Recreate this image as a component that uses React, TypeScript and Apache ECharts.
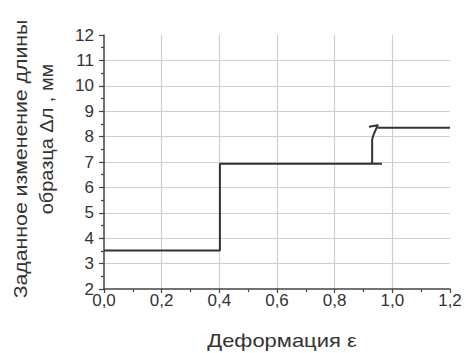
import React, { useEffect, useRef } from "react";
import * as echarts from "echarts";

const xTicks = [0, 0.2, 0.4, 0.6, 0.8, 1.0, 1.2];
const yTicks = [2, 3, 4, 5, 6, 7, 8, 9, 10, 11, 12];
const lowerStep: [number, number][] = [
  [0, 3.52],
  [0.402, 3.52],
  [0.402, 6.93],
  [0.964, 6.93],
];
const riseStep: [number, number][] = [
  [0.93, 6.93],
  [0.93, 7.88],
  [0.934, 8.05],
  [0.95, 8.47],
];
const hookStep: [number, number][] = [
  [0.919, 8.39],
  [0.95, 8.45],
];
const upperStep: [number, number][] = [
  [0.948, 8.35],
  [1.2, 8.35],
];
const xTitle = "Деформация ε";
const yTitle1 = "Заданное изменение длины";
const yTitle2 = "образца Δл , мм";

const FONT = "Liberation Sans, Arial, sans-serif";

export default function App() {
  const ref = useRef<HTMLDivElement>(null);
  useEffect(() => {
    if (!ref.current) return;
    const chart = echarts.init(ref.current, undefined, { renderer: "svg" });
    const lineStyle = { color: "#333", width: 2 };
    const mk = (data: [number, number][]) => ({
      type: "line",
      data,
      showSymbol: false,
      symbol: "none",
      lineStyle,
      z: 5,
    });
    chart.setOption({
      animation: false,
      backgroundColor: "#fff",
      textStyle: { fontFamily: FONT },
      grid: { left: 104, right: 16, top: 35, bottom: 64, containLabel: false },
      xAxis: {
        type: "value",
        min: xTicks[0],
        max: xTicks[xTicks.length - 1],
        interval: 0.2,
        axisLine: { show: true, lineStyle: { color: "#444", width: 1.5 } },
        axisTick: { show: true, inside: false, length: 4, lineStyle: { color: "#444", width: 1.2 } },
        minorTick: { show: true, splitNumber: 2, length: 3, lineStyle: { color: "#444", width: 1.2 } },
        splitLine: { show: true, showMinLine: false, showMaxLine: false, lineStyle: { color: "#cfcfcf", width: 1.2 } },
        axisLabel: {
          color: "#333",
          fontSize: 17,
          margin: 3,
          formatter: (v: number) => v.toFixed(1).replace(".", ","),
        },
      },
      yAxis: {
        type: "value",
        min: yTicks[0],
        max: yTicks[yTicks.length - 1],
        interval: 1,
        axisLine: { show: true, lineStyle: { color: "#444", width: 1.5 } },
        axisTick: { show: true, inside: false, length: 5, lineStyle: { color: "#444", width: 1.2 } },
        minorTick: { show: true, splitNumber: 2, length: 3, lineStyle: { color: "#444", width: 1.2 } },
        splitLine: { show: true, showMinLine: false, showMaxLine: false, lineStyle: { color: "#cfcfcf", width: 1.2 } },
        axisLabel: { color: "#333", fontSize: 17, margin: 10 },
      },
      graphic: [
        {
          type: "text",
          x: 282,
          y: 341,
          scaleX: 1.22,
          style: {
            text: xTitle,
            fontSize: 18,
            fontFamily: FONT,
            fill: "#333",
            align: "center",
            verticalAlign: "middle",
          },
        },
        {
          type: "text",
          x: 20,
          y: 159,
          rotation: Math.PI / 2,
          scaleX: 1.12,
          style: {
            text: yTitle1,
            fontSize: 19,
            fontFamily: FONT,
            fill: "#333",
            align: "center",
            verticalAlign: "middle",
          },
        },
        {
          type: "text",
          x: 46,
          y: 139,
          rotation: Math.PI / 2,
          scaleX: 1.05,
          style: {
            text: yTitle2,
            fontSize: 19,
            fontFamily: FONT,
            fill: "#333",
            align: "center",
            verticalAlign: "middle",
          },
        },
      ],
      series: [mk(lowerStep), mk(riseStep), mk(hookStep), mk(upperStep)],
    });
    return () => chart.dispose();
  }, []);
  return <div ref={ref} style={{ width: 466, height: 353, position: "absolute", left: 0, top: 0 }} />;
}
